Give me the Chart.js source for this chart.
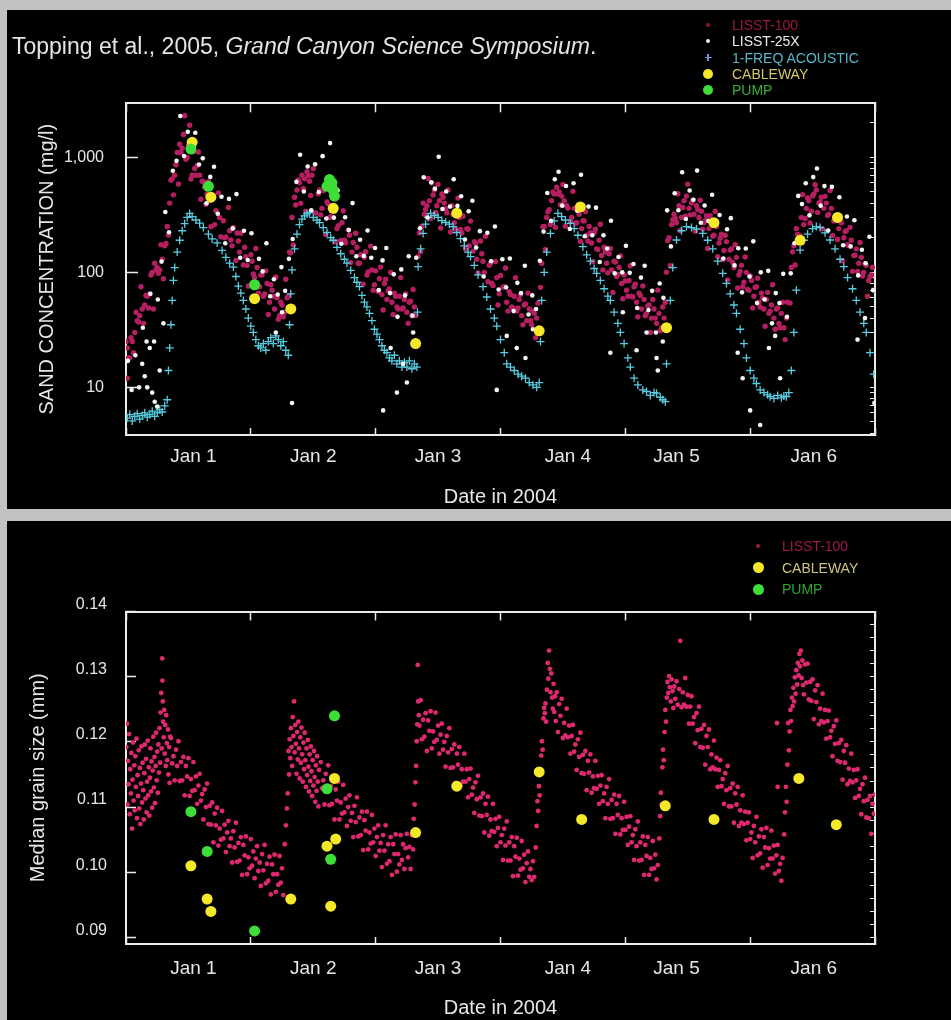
<!DOCTYPE html>
<html>
<head>
<meta charset="utf-8">
<title>Sand concentration and median grain size, January 2004</title>
<script src="https://cdn.jsdelivr.net/npm/chart.js@4.4.1/dist/chart.umd.min.js"></script>
<style>
  html, body { margin:0; padding:0; }
  body { width:951px; height:1020px; background:#c2c2c2; position:relative; overflow:hidden;
         font-family:"Liberation Sans", Arial, Helvetica, sans-serif; }
  .panel { position:absolute; left:7px; width:944px; height:499px; background:#000; }
  #panelTop { top:10px; }
  #panelBottom { top:521px; }
  .panel canvas { position:absolute; left:0; top:0; }
  .cite { position:absolute; left:5px; top:25px; font-size:23px; line-height:23px; color:#e4e4e4; white-space:nowrap; }
  .leg { position:absolute; font-size:14px; line-height:14px; white-space:nowrap; }
  .mk { position:absolute; border-radius:50%; }
  .bar { position:absolute; }
</style>
</head>
<body>
<div class="panel" id="panelTop">
  <canvas id="chartTop" width="944" height="499"></canvas>
  <div class="cite">Topping et al., 2005, <i>Grand Canyon Science Symposium</i>.</div>
  <div id="legendTop"></div>
</div>
<div class="panel" id="panelBottom">
  <canvas id="chartBottom" width="944" height="499"></canvas>
  <div id="legendBottom"></div>
</div>
<script>
// ---------- axis categories / ticks ----------
const dayBoundaries = [0, 1, 2, 3, 4, 5, 6];
const dayLabelPositions = [0.54, 1.50, 2.50, 3.54, 4.41, 5.51];
const dayLabels = ['Jan 1', 'Jan 2', 'Jan 3', 'Jan 4', 'Jan 5', 'Jan 6'];
const concTickValues = [10, 100, 1000];
const grainTickValues = [0.09, 0.10, 0.11, 0.12, 0.13, 0.14];

// ---------- top panel: sand concentration (mg/l), x in days since Jan 1 00:00 ----------
const lisst100Conc = [
[0.00,25],[0.02,18],[0.04,27],[0.06,20],[0.08,45],[0.10,37],[0.12,75],[0.14,36],[0.16,63],[0.18,49],[0.20,95],[0.22,48],[0.24,105],[0.26,98],[0.28,174],[0.30,88],[0.32,178],[0.34,211],[0.36,632],[0.38,472],[0.40,861],[0.42,587],[0.44,1100],[0.46,1579],[0.48,963],[0.50,1260],[0.52,649],[0.54,1122],[0.56,698],[0.58,1112],[0.60,432],[0.62,610],[0.64,390],[0.66,614],[0.68,249],[0.70,445],[0.72,343],[0.74,491],[0.76,204],[0.78,281],[0.80,203],[0.82,367],[0.84,191],[0.86,244],[0.88,127],[0.90,187],[0.92,219],[0.94,116],[0.96,137],[0.98,76],[1.00,142],[1.02,97],[1.04,161],[1.06,66],[1.08,95],[1.10,62],[1.12,103],[1.14,43],[1.16,78],[1.18,62],[1.20,91],[1.22,39],[1.24,55],[1.26,41],[1.28,87],[1.30,62],[1.32,148],[1.34,173],[1.36,385],[1.38,635],[1.40,398],[1.42,536],[1.44,340],[1.46,690],[1.48,465],[1.50,797],[1.52,328],[1.54,482],[1.56,316],[1.58,513],[1.60,213],[1.62,392],[1.64,304],[1.66,438],[1.68,184],[1.70,255],[1.72,189],[1.74,343],[1.76,181],[1.78,234],[1.80,122],[1.82,182],[1.84,219],[1.86,120],[1.88,142],[1.90,79],[1.92,151],[1.94,101],[1.96,169],[1.98,70],[2.00,103],[2.02,68],[2.04,111],[2.06,47],[2.08,87],[2.10,69],[2.12,100],[2.14,43],[2.16,62],[2.18,48],[2.20,90],[2.22,49],[2.24,65],[2.26,36],[2.28,56],[2.30,71],[2.32,42],[2.34,137],[2.36,151],[2.38,400],[2.40,353],[2.42,656],[2.44,295],[2.46,470],[2.48,332],[2.50,581],[2.52,243],[2.54,450],[2.56,358],[2.58,521],[2.60,224],[2.62,318],[2.64,239],[2.66,442],[2.68,236],[2.70,308],[2.72,160],[2.74,237],[2.76,279],[2.78,153],[2.80,179],[2.82,99],[2.84,187],[2.86,125],[2.88,206],[2.90,83],[2.92,120],[2.94,77],[2.96,124],[2.98,52],[3.00,94],[3.02,74],[3.04,109],[3.06,46],[3.08,64],[3.10,49],[3.12,90],[3.14,49],[3.16,64],[3.18,35],[3.20,53],[3.22,66],[3.24,38],[3.26,46],[3.28,27],[3.30,54],[3.32,74],[3.34,249],[3.36,158],[3.38,336],[3.40,261],[3.42,500],[3.44,246],[3.46,480],[3.48,387],[3.50,581],[3.52,252],[3.54,362],[3.56,275],[3.58,506],[3.60,267],[3.62,351],[3.64,186],[3.66,281],[3.68,338],[3.70,187],[3.72,221],[3.74,124],[3.76,237],[3.78,158],[3.80,262],[3.82,105],[3.84,151],[3.86,99],[3.88,161],[3.90,67],[3.92,123],[3.94,96],[3.96,139],[3.98,59],[4.00,84],[4.02,62],[4.04,114],[4.06,61],[4.08,79],[4.10,41],[4.12,63],[4.14,76],[4.16,42],[4.18,51],[4.20,30],[4.22,58],[4.24,40],[4.26,70],[4.28,31],[4.30,50],[4.32,55],[4.34,189],[4.36,114],[4.38,287],[4.40,294],[4.42,483],[4.44,231],[4.46,367],[4.48,308],[4.50,585],[4.52,316],[4.54,424],[4.56,228],[4.58,352],[4.60,423],[4.62,237],[4.64,281],[4.66,161],[4.68,310],[4.70,206],[4.72,340],[4.74,137],[4.76,198],[4.78,129],[4.80,209],[4.82,86],[4.84,156],[4.86,122],[4.88,174],[4.90,73],[4.92,102],[4.94,75],[4.96,136],[4.98,71],[5.00,93],[5.02,49],[5.04,74],[5.06,89],[5.08,50],[5.10,60],[5.12,34],[5.14,67],[5.16,46],[5.18,78],[5.20,32],[5.22,49],[5.24,33],[5.26,55],[5.28,26],[5.30,55],[5.32,54],[5.34,151],[5.36,116],[5.38,214],[5.40,207],[5.42,474],[5.44,294],[5.46,443],[5.48,269],[5.50,462],[5.52,578],[5.54,332],[5.56,410],[5.58,239],[5.60,458],[5.62,312],[5.64,515],[5.66,209],[5.68,300],[5.70,193],[5.72,308],[5.74,126],[5.76,226],[5.78,174],[5.80,246],[5.82,102],[5.84,141],[5.86,102],[5.88,182],[5.90,93],[5.92,119],[5.94,62],[5.96,92],[5.98,110],
[0.01,12],[0.01,22],[0.03,18],[0.05,25],[0.07,30],[0.09,38],[0.11,42],[0.13,48],[0.15,52],[0.17,62],[0.19,65],[0.21,100],[0.23,120],[0.25,110],[0.27,105],[0.29,130],[0.31,170],
[0.33,250],[0.35,400],[0.37,650],[0.39,700],[0.41,1100],[0.43,1300],[0.45,1200],[0.47,2300],[0.49,1000],[0.51,1900],
[0.53,700],[0.55,800],[0.57,850],[0.59,700],[0.61,620],[0.63,550],[0.65,480],[0.67,420],[0.71,260],[0.75,300],[0.79,200],[0.83,230],[0.85,170],[0.89,220],[0.91,150],[0.95,165],[0.97,115],[1.01,125],[1.03,90],[1.05,110],[1.07,75],[1.09,95],[1.11,65],[1.13,80],[1.15,55],[1.17,70],[1.19,48],[1.21,60],[1.23,42],[1.25,52],[1.27,45],
[1.29,60],[1.31,150],[1.33,300],[1.35,450],[1.37,520],[1.39,600],[1.41,700],[1.43,650],[1.45,750],[1.47,620],[1.49,700],
[1.55,520],[1.57,360],[1.61,410],[1.63,300],[1.67,340],[1.69,240],[1.73,270],[1.75,190],[1.79,210],[1.81,150],[1.85,165],[1.87,120],[1.91,135],[1.93,95],[1.97,105],[1.99,78],[2.03,88],[2.05,64],[2.07,80],[2.09,58],[2.11,72],[2.13,55],[2.15,66],[2.17,50],[2.19,62],[2.21,48],[2.23,58],[2.25,45],[2.27,55],[2.29,42],[2.31,50],
[2.35,220],[2.37,250],[2.39,320],[2.41,380],[2.43,420],[2.45,600],[2.47,520],[2.49,380],[2.51,420],[2.53,480],[2.55,400],
[2.57,330],[2.61,380],[2.63,270],[2.67,300],[2.69,220],[2.73,240],[2.75,170],[2.79,185],[2.81,130],[2.85,145],[2.87,100],[2.91,115],[2.93,80],[2.97,90],[2.99,65],[3.03,75],[3.05,55],[3.07,68],[3.09,50],[3.11,62],[3.13,46],[3.15,58],[3.17,42],[3.19,52],[3.21,38],[3.23,48],[3.25,35],[3.27,44],[3.29,40],
[3.33,120],[3.35,250],[3.37,300],[3.39,350],[3.41,420],[3.43,480],[3.45,550],[3.47,500],[3.49,460],[3.51,420],[3.53,380],
[3.57,300],[3.59,360],[3.61,270],[3.63,320],[3.65,240],[3.67,280],[3.69,210],[3.71,250],[3.73,180],[3.75,220],[3.77,160],[3.79,190],[3.81,140],[3.83,165],[3.85,120],[3.87,145],[3.89,105],[3.91,125],[3.93,92],[3.95,110],[3.97,80],[3.99,95],[4.01,70],[4.03,85],[4.05,62],[4.07,75],[4.09,55],[4.11,66],[4.13,48],[4.15,58],[4.17,44],[4.19,52],[4.21,40],[4.23,48],[4.25,36],[4.27,44],[4.29,33],[4.31,40],
[4.33,100],[4.35,200],[4.37,260],[4.39,320],[4.41,270],[4.43,380],[4.45,300],[4.47,420],[4.49,460],[4.51,360],[4.53,400],[4.55,320],[4.57,380],[4.59,300],[4.61,340],
[4.63,270],[4.65,310],[4.67,240],[4.69,280],[4.71,210],[4.73,250],[4.75,180],[4.77,215],[4.79,155],[4.81,185],[4.83,130],[4.85,160],[4.87,110],[4.89,135],[4.91,95],[4.93,115],[4.95,82],[4.97,100],[4.99,70],[5.01,85],[5.03,62],[5.05,75],[5.07,55],[5.09,66],[5.11,48],[5.13,58],[5.15,44],[5.17,52],[5.19,40],[5.21,48],[5.23,36],[5.25,44],[5.27,33],[5.29,40],
[5.33,110],[5.35,170],[5.37,240],[5.39,200],[5.41,300],[5.43,260],[5.45,360],[5.47,420],[5.49,340],[5.51,480],[5.53,520],[5.55,400],[5.57,450],[5.59,360],[5.61,400],
[5.63,320],[5.65,360],[5.67,280],[5.69,310],[5.71,240],[5.73,270],[5.75,200],[5.77,230],[5.79,170],[5.81,190],[5.83,140],[5.85,160],[5.87,120],[5.89,135],[5.91,100],[5.93,115],[5.95,85],[5.97,95],[5.99,70]
];

const lisst25xConc = [
[0.015,17],[0.045,9.5],[0.075,19],[0.105,10],[0.135,33],[0.165,25],[0.195,65],[0.225,25],[0.255,58],[0.285,124],[0.315,335],[0.345,223],[0.375,764],[0.405,932],[0.435,2285],[0.465,1028],[0.495,1666],[0.525,1120],[0.555,1638],[0.585,865],[0.615,980],[0.645,398],[0.675,676],[0.705,829],[0.735,323],[0.765,454],[0.795,179],[0.825,435],[0.855,241],[0.885,479],[0.915,134],[0.945,230],[0.975,128],[1.005,219],[1.035,75],[1.065,131],[1.095,102],[1.125,179],[1.155,62],[1.185,87],[1.215,64],[1.245,111],[1.275,69],
[1.305,131],[1.335,195],[1.365,612],[1.395,1053],[1.425,505],[1.455,832],[1.485,347],[1.515,869],[1.545,500],[1.575,1024],[1.605,294],[1.635,1330],[1.665,299],[1.695,518],[1.725,177],[1.755,301],[1.785,233],[1.815,400],[1.845,138],[1.875,192],[1.905,139],[1.935,231],[1.965,134],[1.995,163],[2.025,70],[2.055,127],[2.085,163],[2.115,66],[2.145,96],[2.175,41],[2.205,106],[2.235,63],[2.265,138],[2.295,42],
[2.325,134],[2.355,242],[2.385,670],[2.415,300],[2.445,606],[2.475,534],[2.505,1011],[2.535,355],[2.565,504],[2.595,373],[2.625,645],[2.655,378],[2.685,459],[2.715,193],[2.745,340],[2.775,419],[2.805,164],[2.835,228],[2.865,92],[2.895,221],[2.925,125],[2.955,250],[2.985,71],[3.015,130],[3.045,74],[3.075,132],[3.105,46],[3.135,81],[3.165,66],[3.195,114],[3.225,43],[3.255,63],[3.285,48],
[3.315,126],[3.345,226],[3.375,490],[3.405,280],[3.435,644],[3.465,750],[3.495,380],[3.525,563],[3.555,238],[3.585,595],[3.615,343],[3.645,705],[3.675,206],[3.705,373],[3.735,210],[3.765,365],[3.795,123],[3.825,210],[3.855,161],[3.885,281],[3.915,98],[3.945,136],[3.975,100],[4.005,170],[4.035,99],[4.065,118],[4.095,49],[4.125,90],[4.155,114],[4.185,47],[4.215,69],[4.245,30],[4.275,80],[4.305,60],
[4.335,346],[4.365,168],[4.395,487],[4.425,347],[4.455,741],[4.485,291],[4.515,515],[4.545,428],[4.575,767],[4.605,270],[4.635,381],[4.665,280],[4.695,473],[4.725,266],[4.755,315],[4.785,132],[4.815,237],[4.845,296],[4.875,115],[4.905,162],[4.935,67],[4.965,161],[4.995,92],[5.025,186],[5.055,54],[5.085,100],[5.115,58],[5.145,103],[5.175,36],[5.205,66],[5.235,54],[5.265,97],[5.295,41],
[5.325,98],[5.355,179],[5.385,462],[5.415,392],[5.445,595],[5.475,313],[5.505,673],[5.535,800],[5.565,380],[5.595,562],[5.625,231],[5.655,554],[5.685,312],[5.715,450],[5.745,172],[5.775,306],[5.805,168],[5.835,284],[5.865,94],[5.895,157],[5.925,120],[5.955,204],[5.985,70],
[0.13,16],[0.15,12.5],[0.17,10],[0.19,22],[0.21,9],[0.23,7.5],[0.25,6.8],[0.27,14],[0.30,36],[1.20,30],[1.25,45],[1.33,7.3],[2.06,6.3],[2.12,22],[2.17,9],[2.22,16],[2.25,11],[2.30,30],[2.97,9.5],[3.05,28],[3.13,22],[3.20,18],[3.26,32],[3.88,20],[3.98,45],[4.09,21],[4.17,30],[4.25,18],[4.26,14],[4.30,25],[4.90,20],[4.94,12],[5.00,6.3],[5.08,4.7],[5.15,22],[5.20,28],[5.24,12],[5.86,26],[5.92,40],[5.995,7.3]
];

const acousticConc = [
[0.01,5.4],[0.03,5.8],[0.05,5.1],[0.07,5.6],[0.09,5.9],[0.11,5.3],[0.13,5.7],[0.15,6.0],[0.17,5.5],[0.19,5.8],[0.21,6.2],[0.23,5.6],[0.25,6.0],[0.27,6.4],[0.29,6.1],[0.31,6.9],[0.33,7.8],
[0.34,14],[0.35,22],[0.36,35],[0.37,57],[0.38,85],[0.39,110],[0.41,150],[0.43,190],[0.45,230],[0.47,265],[0.49,300],[0.51,325],[0.53,305],
[0.56,285],[0.59,268],[0.62,245],[0.66,215],[0.69,195],[0.73,180],[0.77,155],[0.80,135],[0.83,120],[0.86,111],[0.88,92],[0.90,76],[0.92,66],[0.94,57],[0.96,48],[0.98,40],[1.00,34],[1.02,30],[1.04,26],[1.06,23],
[1.08,22],[1.10,24],[1.12,21],[1.14,25],[1.16,27],[1.18,24],[1.20,28],[1.22,26],[1.24,23],[1.26,25],[1.28,21],[1.30,19],
[1.31,35],[1.32,65],[1.33,105],[1.35,160],[1.37,215],[1.39,260],[1.41,290],[1.43,310],[1.45,322],[1.47,330],
[1.50,300],[1.53,285],[1.55,270],[1.58,245],[1.61,222],[1.64,200],[1.66,190],[1.69,165],[1.72,145],[1.75,130],[1.77,120],[1.80,104],[1.83,90],[1.85,82],[1.87,75],[1.89,63],[1.91,55],[1.93,50],[1.95,44],[1.97,38],[1.99,32],[2.01,29],[2.03,26],[2.05,23],[2.07,21],[2.09,20],
[2.11,18],[2.13,17],[2.15,19],[2.17,16],[2.19,17],[2.21,15],[2.23,16.5],[2.25,15],[2.27,17],[2.29,14.5],[2.31,16],[2.33,15],
[2.335,45],[2.34,112],[2.36,160],[2.38,218],[2.40,262],[2.42,300],[2.44,326],[2.47,312],[2.50,300],[2.53,282],
[2.56,272],[2.59,262],[2.62,250],[2.65,222],[2.68,196],[2.71,170],[2.74,150],[2.76,137],[2.79,115],[2.82,95],[2.86,75],[2.89,61],[2.92,48],[2.95,40],[2.97,34],[3.00,26],[3.03,20],[3.05,16],[3.08,15],[3.11,14],[3.14,13],[3.17,12.5],[3.20,12],[3.23,11],[3.26,10.5],[3.29,10],[3.31,11],
[3.32,25],[3.33,57],[3.35,100],[3.37,150],[3.40,218],[3.43,280],[3.46,326],[3.49,305],
[3.52,285],[3.56,267],[3.59,240],[3.62,210],[3.66,167],[3.69,142],[3.72,125],[3.75,108],[3.77,98],[3.80,85],[3.83,72],[3.86,62],[3.88,57],[3.91,45],[3.94,36],[3.96,30],[3.99,24],[4.02,18],[4.04,15],[4.07,12],[4.10,10.5],[4.14,9.5],[4.17,9.2],[4.20,8.5],[4.23,9.0],[4.25,8.9],[4.28,8.2],[4.30,7.8],[4.32,7.5],
[4.33,16],[4.36,57],[4.38,110],[4.41,191],[4.45,230],[4.49,250],[4.53,245],
[4.57,238],[4.62,218],[4.66,190],[4.70,160],[4.74,125],[4.78,98],[4.81,80],[4.84,65],[4.87,52],[4.89,44],[4.92,32],[4.95,24],[4.97,18],[5.00,14],[5.03,12],[5.05,10.8],[5.08,9.5],[5.11,9],[5.14,8.6],[5.16,8.3],[5.19,8],[5.22,8.5],[5.25,8.1],[5.27,8.4],[5.29,8.3],[5.31,9],
[5.33,14],[5.35,30],[5.37,70],[5.40,156],[5.43,190],[5.46,215],[5.50,240],[5.53,250],[5.56,245],
[5.60,220],[5.64,191],[5.68,160],[5.72,130],[5.75,112],[5.78,90],[5.82,72],[5.85,57],[5.88,45],[5.91,36],[5.93,30],[5.96,20],[5.99,13]
];

const cablewayConc = [[0.53,1350],[0.68,450],[1.03,59],[1.32,48],[1.66,360],[2.32,24],[2.65,327],[3.31,31],[3.64,370],[4.33,33],[4.71,270],[5.40,190],[5.70,300]];
const pumpConc = [[0.52,1180],[0.66,560],[1.03,78],[1.61,560],[1.63,640],[1.65,600],[1.66,520],[1.67,460]];

// ---------- bottom panel: median grain size (mm) ----------
const lisst100Grain = [
[0.003,0.1192],[0.008,0.1228],[0.012,0.1104],[0.016,0.1171],[0.021,0.1135],[0.025,0.1212],[0.030,0.1089],[0.034,0.1158],[0.039,0.1121],[0.043,0.1183],[0.048,0.1067],[0.052,0.1142],[0.057,0.1199],[0.061,0.1110],[0.066,0.1164],[0.070,0.1095],[0.075,0.1178],[0.079,0.1131],[0.084,0.1205],[0.088,0.1083],[0.093,0.1149],[0.097,0.1117],[0.102,0.1187],[0.106,0.1098],[0.111,0.1160],[0.115,0.1074],[0.120,0.1136],[0.124,0.1193],[0.129,0.1107],[0.133,0.1168],[0.138,0.1126],[0.142,0.1081],[0.147,0.1152],[0.151,0.1196],[0.156,0.1113],[0.160,0.1174],[0.165,0.1092],[0.169,0.1139],[0.174,0.1202],[0.178,0.1118],[0.183,0.1161],[0.187,0.1087],[0.192,0.1145],[0.196,0.1190],[0.201,0.1124],[0.205,0.1170],[0.210,0.1099],[0.214,0.1156],[0.219,0.1208],[0.223,0.1130],[0.228,0.1177],[0.232,0.1106],[0.237,0.1163],[0.241,0.1214],[0.246,0.1141],[0.250,0.1185],[0.255,0.1122],[0.259,0.1196],[0.264,0.1153],[0.268,0.1221],[0.273,0.1168],[0.277,0.1245],[0.282,0.1275],[0.286,0.1190],[0.290,0.1328],[0.292,0.1294],[0.295,0.1262],[0.298,0.1231],[0.302,0.1207],[0.306,0.1249],[0.310,0.1182],[0.314,0.1226],[0.318,0.1163],[0.322,0.1241],[0.327,0.1198],[0.331,0.1172],[0.336,0.1219],[0.340,0.1150],[0.345,0.1192],[0.349,0.1137],[0.354,0.1208],
[0.36,0.1206],[0.37,0.1167],[0.38,0.1178],[0.39,0.1141],[0.40,0.1188],[0.41,0.1163],[0.42,0.1201],[0.43,0.1140],[0.44,0.1169],[0.45,0.1141],[0.46,0.1177],[0.47,0.1118],[0.48,0.1163],[0.49,0.1147],[0.50,0.1175],[0.51,0.1117],[0.52,0.1143],[0.53,0.1125],[0.54,0.1169],[0.55,0.1126],[0.56,0.1147],[0.57,0.1105],[0.58,0.1133],[0.59,0.1151],[0.60,0.1110],[0.61,0.1120],[0.62,0.1081],[0.63,0.1127],[0.64,0.1100],[0.65,0.1136],[0.66,0.1074],[0.67,0.1102],[0.68,0.1073],[0.69,0.1107],[0.70,0.1046],[0.71,0.1090],[0.72,0.1072],[0.73,0.1099],[0.74,0.1041],[0.75,0.1067],[0.76,0.1050],[0.77,0.1094],[0.78,0.1052],[0.79,0.1073],[0.80,0.1031],[0.81,0.1061],[0.82,0.1079],[0.83,0.1040],[0.84,0.1052],[0.85,0.1015],[0.86,0.1063],[0.87,0.1038],[0.88,0.1076],[0.89,0.1016],[0.90,0.1045],[0.91,0.1018],[0.92,0.1054],[0.93,0.0996],[0.94,0.1042],[0.95,0.1026],[0.96,0.1055],[0.97,0.0997],[0.98,0.1023],[0.99,0.1006],[1.00,0.1051],[1.01,0.1010],[1.02,0.1032],[1.03,0.0991],[1.04,0.1021],[1.05,0.1040],[1.06,0.1002],[1.07,0.1015],[1.08,0.0979],[1.09,0.1028],[1.10,0.1003],[1.11,0.1042],[1.12,0.0983],[1.13,0.1013],[1.14,0.0987],[1.15,0.1024],[1.16,0.0966],[1.17,0.1012],[1.18,0.0997],[1.19,0.1027],[1.20,0.0970],[1.21,0.0997],[1.22,0.0981],[1.23,0.1025],[1.24,0.0984],[1.25,0.1006],[1.26,0.0965],
[1.272,0.1043],[1.281,0.1072],[1.289,0.1098],[1.296,0.1121],[1.302,0.1186],[1.306,0.1150],[1.311,0.1204],[1.316,0.1175],[1.321,0.1221],[1.326,0.1192],[1.331,0.1163],[1.336,0.1238],[1.341,0.1209],[1.346,0.1262],[1.351,0.1184],[1.356,0.1226],[1.361,0.1197],[1.366,0.1151],[1.371,0.1215],[1.376,0.1173],[1.381,0.1231],[1.386,0.1190],[1.391,0.1144],[1.396,0.1207],[1.401,0.1168],[1.406,0.1222],[1.411,0.1181],[1.416,0.1139],[1.421,0.1199],[1.426,0.1158],[1.431,0.1214],[1.436,0.1172],[1.441,0.1131],[1.446,0.1190],[1.451,0.1149],[1.456,0.1203],[1.461,0.1162],[1.466,0.1124],[1.471,0.1181],[1.476,0.1140],[1.481,0.1193],[1.486,0.1155],[1.491,0.1117],[1.496,0.1172],[1.501,0.1133],[1.506,0.1186],[1.511,0.1146],[1.516,0.1108],[1.521,0.1164],[1.526,0.1125],[1.531,0.1178],[1.536,0.1139],[1.541,0.1101],[1.546,0.1157],
[1.56,0.1169],[1.57,0.1129],[1.58,0.1141],[1.59,0.1104],[1.60,0.1151],[1.61,0.1126],[1.62,0.1164],[1.63,0.1103],[1.64,0.1132],[1.65,0.1105],[1.66,0.1140],[1.67,0.1081],[1.68,0.1127],[1.69,0.1110],[1.70,0.1139],[1.71,0.1081],[1.72,0.1107],[1.73,0.1090],[1.74,0.1134],[1.75,0.1092],[1.76,0.1113],[1.77,0.1071],[1.78,0.1100],[1.79,0.1118],[1.80,0.1079],[1.81,0.1091],[1.82,0.1054],[1.83,0.1102],[1.84,0.1077],[1.85,0.1115],[1.86,0.1055],[1.87,0.1084],[1.88,0.1057],[1.89,0.1093],[1.90,0.1034],[1.91,0.1080],[1.92,0.1064],[1.93,0.1093],[1.94,0.1035],[1.95,0.1061],[1.96,0.1044],[1.97,0.1088],[1.98,0.1046],[1.99,0.1067],[2.00,0.1025],[2.01,0.1054],[2.02,0.1072],[2.03,0.1033],[2.04,0.1045],[2.05,0.1008],[2.06,0.1057],[2.07,0.1033],[2.08,0.1072],[2.09,0.1013],[2.10,0.1043],[2.11,0.1017],[2.12,0.1054],[2.13,0.0996],[2.14,0.1043],[2.15,0.1028],[2.16,0.1058],[2.17,0.1001],[2.18,0.1028],[2.19,0.1012],[2.20,0.1057],[2.21,0.1019],[2.22,0.1043],[2.23,0.1005],[2.24,0.1037],[2.25,0.1059],[2.26,0.1023],[2.27,0.1039],[2.28,0.1005],[2.29,0.1057],[2.30,0.1035],
[2.305,0.1082],[2.312,0.1104],[2.318,0.1138],[2.324,0.1163],[2.329,0.1201],[2.333,0.1227],[2.337,0.1318],[2.341,0.1262],[2.346,0.1241],
[2.35,0.1225],[2.36,0.1264],[2.37,0.1204],[2.38,0.1234],[2.39,0.1208],[2.40,0.1244],[2.41,0.1186],[2.42,0.1233],[2.43,0.1217],[2.44,0.1247],[2.45,0.1190],[2.46,0.1216],[2.47,0.1200],[2.48,0.1245],[2.49,0.1203],[2.50,0.1225],[2.51,0.1182],[2.52,0.1211],[2.53,0.1228],[2.54,0.1188],[2.55,0.1200],[2.56,0.1162],[2.57,0.1209],[2.58,0.1184],[2.59,0.1221],[2.60,0.1160],[2.61,0.1189],[2.62,0.1161],[2.63,0.1196],[2.64,0.1137],[2.65,0.1182],[2.66,0.1165],[2.67,0.1192],[2.68,0.1133],[2.69,0.1158],[2.70,0.1139],[2.71,0.1182],[2.72,0.1139],[2.73,0.1158],[2.74,0.1115],[2.75,0.1143],[2.76,0.1159],[2.77,0.1119],[2.78,0.1130],[2.79,0.1091],[2.80,0.1138],[2.81,0.1112],[2.82,0.1148],[2.83,0.1087],[2.84,0.1115],[2.85,0.1086],[2.86,0.1121],[2.87,0.1061],[2.88,0.1105],[2.89,0.1088],[2.90,0.1116],[2.91,0.1056],[2.92,0.1081],[2.93,0.1063],[2.94,0.1105],[2.95,0.1062],[2.96,0.1082],[2.97,0.1040],[2.98,0.1068],[2.99,0.1085],[3.00,0.1046],[3.01,0.1057],[3.02,0.1019],[3.03,0.1067],[3.04,0.1041],[3.05,0.1078],[3.06,0.1018],[3.07,0.1046],[3.08,0.1018],[3.09,0.1054],[3.10,0.0994],[3.11,0.1040],[3.12,0.1024],[3.13,0.1053],[3.14,0.0995],[3.15,0.1021],[3.16,0.1004],[3.17,0.1048],[3.18,0.1006],[3.19,0.1027],[3.20,0.0985],[3.21,0.1014],[3.22,0.1032],[3.23,0.0993],[3.24,0.1005],[3.25,0.0988],[3.26,0.1017],[3.27,0.0993],
[3.282,0.1038],[3.289,0.1071],[3.296,0.1109],[3.302,0.1094],[3.308,0.1132],[3.314,0.1118],[3.320,0.1157],[3.326,0.1179],[3.332,0.1201],[3.338,0.1188],[3.344,0.1236],[3.350,0.1252],[3.355,0.1244],[3.360,0.1259],[3.366,0.1231],[3.372,0.1280],[3.378,0.1321],[3.383,0.1297],[3.389,0.1340],[3.395,0.1312],[3.401,0.1276],[3.407,0.1305],[3.413,0.1268],[3.419,0.1251],[3.425,0.1289],[3.431,0.1246],[3.437,0.1270],[3.443,0.1232],
[3.45,0.1276],[3.46,0.1215],[3.47,0.1258],[3.48,0.1240],[3.49,0.1266],[3.50,0.1206],[3.51,0.1229],[3.52,0.1210],[3.53,0.1251],[3.54,0.1207],[3.55,0.1225],[3.56,0.1182],[3.57,0.1209],[3.58,0.1226],[3.59,0.1185],[3.60,0.1196],[3.61,0.1157],[3.62,0.1204],[3.63,0.1177],[3.64,0.1214],[3.65,0.1152],[3.66,0.1180],[3.67,0.1151],[3.68,0.1186],[3.69,0.1126],[3.70,0.1171],[3.71,0.1153],[3.72,0.1181],[3.73,0.1122],[3.74,0.1147],[3.75,0.1129],[3.76,0.1171],[3.77,0.1128],[3.78,0.1148],[3.79,0.1105],[3.80,0.1133],[3.81,0.1149],[3.82,0.1109],[3.83,0.1121],[3.84,0.1083],[3.85,0.1131],[3.86,0.1105],[3.87,0.1143],[3.88,0.1082],[3.89,0.1111],[3.90,0.1083],[3.91,0.1119],[3.92,0.1059],[3.93,0.1105],[3.94,0.1088],[3.95,0.1117],[3.96,0.1058],[3.97,0.1083],[3.98,0.1065],[3.99,0.1108],[4.00,0.1065],[4.01,0.1085],[4.02,0.1042],[4.03,0.1070],[4.04,0.1086],[4.05,0.1046],[4.06,0.1057],[4.07,0.1019],[4.08,0.1066],[4.09,0.1040],[4.10,0.1078],[4.11,0.1018],[4.12,0.1046],[4.13,0.1019],[4.14,0.1055],[4.15,0.0996],[4.16,0.1042],[4.17,0.1025],[4.18,0.1054],[4.19,0.0996],[4.20,0.1022],[4.21,0.1005],[4.22,0.1048],[4.23,0.1006],[4.24,0.1027],[4.25,0.0989],[4.26,0.1011],
[4.272,0.1052],[4.279,0.1086],[4.285,0.1122],[4.291,0.1104],[4.297,0.1161],[4.302,0.1188],[4.308,0.1172],[4.314,0.1215],[4.320,0.1249],[4.326,0.1231],[4.332,0.1268],[4.338,0.1292],[4.344,0.1275],[4.350,0.1301],[4.357,0.1284],[4.364,0.1262],[4.371,0.1296],[4.378,0.1278],[4.385,0.1252],[4.392,0.1285],[4.400,0.1266],[4.410,0.1293],[4.420,0.1257],[4.432,0.1281],[4.440,0.1355],
[4.45,0.1253],[4.46,0.1276],[4.47,0.1257],[4.48,0.1298],[4.49,0.1254],[4.50,0.1272],[4.51,0.1228],[4.52,0.1254],[4.53,0.1270],[4.54,0.1228],[4.55,0.1238],[4.56,0.1198],[4.57,0.1244],[4.58,0.1218],[4.59,0.1254],[4.60,0.1192],[4.61,0.1220],[4.62,0.1191],[4.63,0.1226],[4.64,0.1165],[4.65,0.1209],[4.66,0.1192],[4.67,0.1219],[4.68,0.1158],[4.69,0.1181],[4.70,0.1161],[4.71,0.1202],[4.72,0.1158],[4.73,0.1176],[4.74,0.1131],[4.75,0.1157],[4.76,0.1172],[4.77,0.1132],[4.78,0.1143],[4.79,0.1105],[4.80,0.1152],[4.81,0.1126],[4.82,0.1163],[4.83,0.1101],[4.84,0.1129],[4.85,0.1101],[4.86,0.1136],[4.87,0.1076],[4.88,0.1121],[4.89,0.1104],[4.90,0.1131],[4.91,0.1071],[4.92,0.1095],[4.93,0.1076],[4.94,0.1118],[4.95,0.1074],[4.96,0.1093],[4.97,0.1049],[4.98,0.1076],[4.99,0.1092],[5.00,0.1051],[5.01,0.1061],[5.02,0.1022],[5.03,0.1071],[5.04,0.1046],[5.05,0.1085],[5.06,0.1026],[5.07,0.1055],[5.08,0.1029],[5.09,0.1066],[5.10,0.1007],[5.11,0.1054],[5.12,0.1038],[5.13,0.1068],[5.14,0.1011],[5.15,0.1037],[5.16,0.1021],[5.17,0.1064],[5.18,0.1021],[5.19,0.1041],[5.20,0.0998],[5.21,0.1026],[5.22,0.1042],[5.23,0.1002],[5.24,0.1013],[5.25,0.0987],[5.26,0.1022],
[5.215,0.1229],[5.22,0.1131],
[5.272,0.1058],[5.279,0.1092],[5.286,0.1131],[5.292,0.1108],[5.298,0.1165],[5.304,0.1229],[5.310,0.1187],[5.316,0.1216],[5.322,0.1249],[5.328,0.1232],[5.334,0.1268],[5.340,0.1255],[5.346,0.1283],[5.352,0.1262],[5.358,0.1299],[5.364,0.1274],[5.370,0.1310],[5.376,0.1288],[5.382,0.1321],[5.388,0.1302],[5.394,0.1335],[5.400,0.1316],[5.406,0.1340],[5.412,0.1298],[5.418,0.1325],[5.424,0.1287],
[5.43,0.1273],[5.44,0.1319],[5.45,0.1291],[5.46,0.1320],[5.47,0.1265],[5.48,0.1292],[5.49,0.1263],[5.50,0.1296],[5.51,0.1235],[5.52,0.1279],[5.53,0.1261],[5.54,0.1287],[5.55,0.1227],[5.56,0.1251],[5.57,0.1232],[5.58,0.1274],[5.59,0.1230],[5.60,0.1249],[5.61,0.1205],[5.62,0.1232],[5.63,0.1248],[5.64,0.1207],[5.65,0.1217],[5.66,0.1178],[5.67,0.1224],[5.68,0.1197],[5.69,0.1233],[5.70,0.1171],[5.71,0.1198],[5.72,0.1169],[5.73,0.1203],[5.74,0.1142],[5.75,0.1186],[5.76,0.1168],[5.77,0.1195],[5.78,0.1135],[5.79,0.1159],[5.80,0.1140],[5.81,0.1182],[5.82,0.1138],[5.83,0.1157],[5.84,0.1114],[5.85,0.1141],[5.86,0.1158],[5.87,0.1117],[5.88,0.1128],[5.89,0.1089],[5.90,0.1135],[5.91,0.1109],[5.92,0.1145],[5.93,0.1084],[5.94,0.1111],[5.95,0.1083],[5.96,0.1117],[5.97,0.1059],[5.98,0.1105],[5.99,0.1090],[6.00,0.1119]
];

const cablewayGrain = [[0.52,0.1010],[0.65,0.0959],[0.68,0.0940],[1.32,0.0959],[1.61,0.1040],[1.68,0.1051],[1.67,0.1144],[1.64,0.0948],[2.32,0.1061],[2.65,0.1132],[3.31,0.1154],[3.65,0.1081],[4.32,0.1102],[4.71,0.1081],[5.39,0.1144],[5.69,0.1073]];
const pumpGrain = [[0.52,0.1093],[0.65,0.1032],[1.03,0.0910],[1.67,0.1240],[1.61,0.1128],[1.64,0.1020]];

// ---------- styling ----------
const FONT = '"Liberation Sans", Arial, Helvetica, sans-serif';
const TXT = '#e6e6e6';
const FRAME = '#ececec';
const CRIMSON = 'rgb(182,30,98)';
const PINK = 'rgb(222,40,112)';
const WHITE = '#f4f4f4';
const CYAN = 'rgb(88,205,225)';
const YELLOW = 'rgb(245,232,40)';
const GREEN = 'rgb(60,222,55)';

function toXY(a) { return a.map(p => ({ x: p[0], y: p[1] })); }
function dayAxisLabel(v) {
  const i = dayLabelPositions.findIndex(p => Math.abs(p - v) < 1e-6);
  return i >= 0 ? dayLabels[i] : '';
}
function logMinorTicks(min, max) {
  const out = [];
  [1, 10, 100, 1000].forEach(d => { for (let k = 1; k <= 9; k++) { const v = k * d; if (v > min && v < max) out.push(v); } });
  return out;
}
function linMinorTicks(a, b, step) {
  const out = []; const n = Math.round((b - a) / step);
  for (let i = 0; i <= n; i++) out.push(+(a + i * step).toFixed(4));
  return out;
}

function xScales(bottomH, topH, labelPad) {
  const xTicks = dayBoundaries.concat(dayLabelPositions).sort((a, b) => a - b);
  return {
    x: {
      type: 'linear', position: 'bottom', min: 0, max: 6,
      afterBuildTicks: s => { s.ticks = xTicks.map(v => ({ value: v })); },
      afterFit: s => { s.height = bottomH; },
      ticks: { autoSkip: false, maxRotation: 0, minRotation: 0, padding: labelPad, color: TXT,
               font: { family: FONT, size: 19 }, callback: v => dayAxisLabel(v) },
      grid: { display: true, drawOnChartArea: false, drawTicks: true, tickLength: -7, tickWidth: 1.5,
              tickColor: c => (c.tick && dayBoundaries.includes(c.tick.value)) ? FRAME : 'rgba(0,0,0,0)' },
      border: { display: true, color: FRAME, width: 2 },
      title: { display: true, text: 'Date in 2004', color: TXT, font: { family: FONT, size: 20 }, padding: { top: 0, bottom: 0 } }
    },
    xTop: {
      type: 'linear', position: 'top', min: 0, max: 6,
      afterBuildTicks: s => { s.ticks = dayBoundaries.map(v => ({ value: v })); },
      afterFit: s => { s.height = topH; },
      ticks: { display: false },
      grid: { display: true, drawOnChartArea: false, drawTicks: true, tickLength: -9, tickWidth: 1.5, tickColor: FRAME },
      border: { display: true, color: FRAME, width: 2 }
    }
  };
}

const baseOptions = {
  responsive: false, animation: false, events: [], devicePixelRatio: 1,
  layout: { padding: 0, autoPadding: false },
  plugins: { legend: { display: false }, tooltip: { enabled: false }, title: { display: false } }
};

// ---------- top chart ----------
const CMIN = 3.85, CMAX = 2950;
new Chart(document.getElementById('chartTop'), {
  type: 'scatter',
  data: { datasets: [
    { label: 'PUMP', data: toXY(pumpConc), pointStyle: 'circle', pointRadius: 5.5, backgroundColor: GREEN, borderWidth: 0, order: 0, xAxisID: 'x', yAxisID: 'y' },
    { label: 'CABLEWAY', data: toXY(cablewayConc), pointStyle: 'circle', pointRadius: 5.5, backgroundColor: YELLOW, borderWidth: 0, order: 1, xAxisID: 'x', yAxisID: 'y' },
    { label: 'LISST-25X', data: toXY(lisst25xConc), pointStyle: 'circle', pointRadius: 2.3, backgroundColor: WHITE, borderWidth: 0, order: 2, xAxisID: 'x', yAxisID: 'y' },
    { label: '1-FREQ ACOUSTIC', data: toXY(acousticConc), pointStyle: 'cross', pointRadius: 4, borderColor: CYAN, backgroundColor: CYAN, borderWidth: 1.3, order: 3, xAxisID: 'x', yAxisID: 'y' },
    { label: 'LISST-100', data: toXY(lisst100Conc), pointStyle: 'circle', pointRadius: 2.7, backgroundColor: CRIMSON, borderWidth: 0, order: 4, xAxisID: 'x', yAxisID: 'y' }
  ] },
  options: Object.assign({}, baseOptions, {
    scales: Object.assign(xScales(74, 93.3, 17.6), {
      y: {
        type: 'logarithmic', position: 'left', min: CMIN, max: CMAX,
        afterBuildTicks: s => { s.ticks = concTickValues.map(v => ({ value: v })); },
        afterFit: s => { s.width = 119; },
        ticks: { padding: 34, color: TXT, font: { family: FONT, size: 16 }, callback: v => Number(v).toLocaleString('en-US') },
        grid: { display: true, drawOnChartArea: false, drawTicks: true, tickLength: -12, tickWidth: 1.5, tickColor: FRAME },
        border: { display: true, color: FRAME, width: 2 },
        title: { display: true, text: 'SAND CONCENTRATION (mg/l)', color: TXT, font: { family: FONT, size: 20 }, padding: { top: 28, bottom: 0 } }
      },
      yRight: {
        type: 'logarithmic', position: 'right', min: CMIN, max: CMAX,
        afterBuildTicks: s => { s.ticks = logMinorTicks(CMIN, CMAX).map(v => ({ value: v })); },
        afterFit: s => { s.width = 76; },
        ticks: { display: false },
        grid: { display: true, drawOnChartArea: false, drawTicks: true, tickLength: -5, tickWidth: 1, tickColor: FRAME },
        border: { display: true, color: FRAME, width: 2 }
      }
    })
  })
});

// ---------- bottom chart ----------
const GMIN = 0.0890, GMAX = 0.14;
new Chart(document.getElementById('chartBottom'), {
  type: 'scatter',
  data: { datasets: [
    { label: 'PUMP', data: toXY(pumpGrain), pointStyle: 'circle', pointRadius: 5.5, backgroundColor: GREEN, borderWidth: 0, order: 0, xAxisID: 'x', yAxisID: 'y' },
    { label: 'CABLEWAY', data: toXY(cablewayGrain), pointStyle: 'circle', pointRadius: 5.5, backgroundColor: YELLOW, borderWidth: 0, order: 1, xAxisID: 'x', yAxisID: 'y' },
    { label: 'LISST-100', data: toXY(lisst100Grain), pointStyle: 'circle', pointRadius: 2.4, backgroundColor: PINK, borderWidth: 0, order: 2, xAxisID: 'x', yAxisID: 'y' }
  ] },
  options: Object.assign({}, baseOptions, {
    scales: Object.assign(xScales(76, 90.5, 19.9), {
      y: {
        type: 'linear', position: 'left', min: GMIN, max: GMAX,
        afterBuildTicks: s => { s.ticks = grainTickValues.map(v => ({ value: v })); },
        afterFit: s => { s.width = 119; },
        ticks: { padding: 29, labelOffset: -7, color: TXT, font: { family: FONT, size: 16 }, callback: v => Number(v).toFixed(2) },
        grid: { display: true, drawOnChartArea: false, drawTicks: true, tickLength: -10, tickWidth: 1.5, tickColor: FRAME },
        border: { display: true, color: FRAME, width: 2 },
        title: { display: true, text: 'Median grain size (mm)', color: TXT, font: { family: FONT, size: 20 }, padding: { top: 19.3, bottom: 0 } }
      },
      yRight: {
        type: 'linear', position: 'right', min: GMIN, max: GMAX,
        afterBuildTicks: s => { s.ticks = linMinorTicks(0.09, 0.14, 0.002).map(v => ({ value: v })); },
        afterFit: s => { s.width = 76; },
        ticks: { display: false },
        grid: { display: true, drawOnChartArea: false, drawTicks: true, tickLength: -5, tickWidth: 1, tickColor: FRAME },
        border: { display: true, color: FRAME, width: 2 }
      }
    })
  })
});

// ---------- legends (HTML) ----------
function buildLegend(id, items, rows, markerX, textX) {
  const box = document.getElementById(id);
  items.forEach((it, i) => {
    const cy = rows[i];
    if (it.shape === 'plus') {
      const h = document.createElement('div'); h.className = 'bar';
      Object.assign(h.style, { left: (markerX - 3.5) + 'px', top: (cy - 0.75) + 'px', width: '7px', height: '1.5px', background: it.color });
      const v = document.createElement('div'); v.className = 'bar';
      Object.assign(v.style, { left: (markerX - 0.75) + 'px', top: (cy - 3.5) + 'px', width: '1.5px', height: '7px', background: it.color });
      box.appendChild(h); box.appendChild(v);
    } else {
      const m = document.createElement('div'); m.className = 'mk';
      Object.assign(m.style, { left: (markerX - it.size / 2) + 'px', top: (cy - it.size / 2) + 'px', width: it.size + 'px', height: it.size + 'px', background: it.color });
      box.appendChild(m);
    }
    const t = document.createElement('div'); t.className = 'leg';
    t.textContent = it.label;
    Object.assign(t.style, { left: textX + 'px', top: (cy - 7) + 'px', color: it.textColor });
    box.appendChild(t);
  });
}
buildLegend('legendTop', [
  { label: 'LISST-100', shape: 'dot', size: 3.5, color: '#8a1242', textColor: '#9c1549' },
  { label: 'LISST-25X', shape: 'dot', size: 4, color: '#f0f0f0', textColor: '#ececec' },
  { label: '1-FREQ ACOUSTIC', shape: 'plus', color: '#6f8fd0', textColor: '#58b6c8' },
  { label: 'CABLEWAY', shape: 'dot', size: 10, color: YELLOW, textColor: '#d4c668' },
  { label: 'PUMP', shape: 'dot', size: 10, color: GREEN, textColor: '#35b035' }
], [15, 31.25, 47.5, 63.75, 80], 701, 725);
buildLegend('legendBottom', [
  { label: 'LISST-100', shape: 'dot', size: 4, color: '#a0184c', textColor: '#a3164e' },
  { label: 'CABLEWAY', shape: 'dot', size: 11, color: YELLOW, textColor: '#cfc37a' },
  { label: 'PUMP', shape: 'dot', size: 11, color: GREEN, textColor: '#2fa52f' }
], [25, 46.5, 68], 751, 775);
</script>
</body>
</html>
